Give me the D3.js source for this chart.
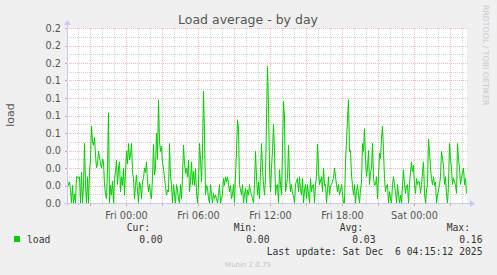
<!DOCTYPE html>
<html><head><meta charset="utf-8">
<script src="https://cdn.jsdelivr.net/npm/d3@7"></script>
<style>
html,body{margin:0;padding:0;background:#f0f0f0;}
svg{display:block;}
</style></head>
<body>
<svg id="chart" width="497" height="275"></svg>
<script>
// ---- data (5-minute samples) ----
const startTime = new Date(2025, 11, 4, 19, 5);
const endTime = new Date(2025, 11, 6, 4, 25);
const stepMinutes = 5;
const loadValues = [
0.025,0.02,0.024,0.015,0.0,0.02,0.0,0.01,0.0,0.03,
0.03,0.028,0.03,0.0,0.035,0.0,0.02,0.068,0.02,0.0,
0.03,0.0,0.035,0.05,0.088,0.07,0.066,0.075,0.055,0.04,
0.045,0.059,0.053,0.045,0.04,0.05,0.047,0.021,0.01,0.005,
0.04,0.103,0.0,0.02,0.009,0.025,0.0,0.028,0.035,0.049,
0.021,0.04,0.047,0.013,0.03,0.02,0.04,0.009,0.035,0.059,
0.045,0.068,0.049,0.055,0.068,0.035,0.028,0.005,0.02,0.032,
0.015,0.0,0.024,0.02,0.005,0.025,0.028,0.04,0.035,0.047,
0.025,0.013,0.021,0.01,0.005,0.03,0.067,0.032,0.04,0.08,
0.05,0.118,0.07,0.059,0.065,0.045,0.04,0.028,0.02,0.009,
0.015,0.013,0.068,0.03,0.021,0.0,0.021,0.01,0.0,0.021,
0.015,0.005,0.0,0.021,0.005,0.03,0.066,0.045,0.034,0.04,
0.03,0.049,0.013,0.025,0.047,0.021,0.036,0.02,0.04,0.013,
0.0,0.021,0.068,0.05,0.024,0.059,0.128,0.078,0.009,0.02,
0.017,0.005,0.0,0.021,0.01,0.0,0.011,0.005,0.009,0.005,
0.0,0.01,0.021,0.0,0.005,0.011,0.028,0.02,0.03,0.024,
0.03,0.021,0.013,0.02,0.005,0.01,0.021,0.0,0.032,0.06,
0.095,0.085,0.021,0.015,0.009,0.021,0.0,0.01,0.017,0.0,
0.015,0.009,0.021,0.013,0.009,0.005,0.0,0.021,0.059,0.03,
0.009,0.024,0.005,0.035,0.068,0.04,0.021,0.009,0.03,0.097,
0.156,0.11,0.04,0.013,0.04,0.06,0.09,0.059,0.009,0.02,
0.021,0.0,0.038,0.021,0.009,0.06,0.116,0.097,0.013,0.02,
0.028,0.066,0.03,0.013,0.021,0.01,0.009,0.0,0.021,0.025,
0.028,0.013,0.03,0.015,0.009,0.028,0.0,0.015,0.021,0.005,
0.021,0.01,0.0,0.028,0.013,0.02,0.021,0.0,0.021,0.03,
0.067,0.04,0.021,0.025,0.03,0.013,0.04,0.02,0.021,0.0,
0.015,0.03,0.009,0.02,0.021,0.025,0.028,0.04,0.03,0.021,
0.013,0.021,0.009,0.015,0.021,0.01,0.0,0.0,0.047,0.07,
0.097,0.118,0.059,0.06,0.032,0.02,0.009,0.021,0.0,0.013,
0.021,0.009,0.0,0.015,0.024,0.068,0.059,0.085,0.05,0.03,
0.04,0.06,0.021,0.035,0.04,0.068,0.028,0.02,0.021,0.03,
0.005,0.03,0.057,0.051,0.074,0.088,0.059,0.028,0.013,0.02,
0.021,0.0,0.013,0.005,0.0,0.021,0.03,0.02,0.013,0.0,
0.021,0.01,0.0,0.009,0.0,0.02,0.038,0.021,0.011,0.02,
0.021,0.0,0.021,0.035,0.047,0.036,0.043,0.02,0.011,0.028,
0.021,0.025,0.024,0.011,0.021,0.035,0.047,0.011,0.0,0.015,
0.021,0.073,0.059,0.04,0.028,0.021,0.03,0.02,0.024,0.0,
0.009,0.015,0.021,0.03,0.059,0.05,0.043,0.021,0.03,0.01,
0.0,0.021,0.068,0.05,0.04,0.021,0.028,0.024,0.021,0.011,
0.068,0.05,0.04,0.021,0.028,0.035,0.04,0.021,0.028,0.011
];
const yTickValues = [0,0.02,0.04,0.06,0.08,0.10,0.12,0.14,0.16,0.18,0.20];
const yTickLabels = ["0.0","0.0","0.0","0.0","0.1","0.1","0.1","0.1","0.2","0.2","0.2"];
const seriesName = "load";
const legendHeads = ["Cur:","Min:","Avg:","Max:"];
const legendValues = ["0.00","0.00","0.03","0.16"];
const titleText = "Load average - by day";
const yAxisTitle = "load";
const lastUpdate = "Last update: Sat Dec  6 04:15:12 2025";
const watermark = "RRDTOOL / TOBI OETIKER";
const footer = "Munin 2.0.75";

// ---- layout ----
const L = 67, R = 467, T = 28, B = 203;
const svg = d3.select("#chart");
const sans = "DejaVu Sans, sans-serif";
const mono = "DejaVu Sans Mono, monospace";
const textCol = "#555";

const x = d3.scaleTime().domain([startTime, endTime]).range([L, R]);
const y = d3.scaleLinear().domain([0, 0.2]).range([B, T]);

svg.append("rect").attr("x", L).attr("y", T).attr("width", R - L).attr("height", B - T).attr("fill", "#ffffff");

// grid
const gGrid = svg.append("g").attr("shape-rendering", "crispEdges");
const minorHours = d3.timeHour.every(1).range(startTime, endTime).filter(d => d.getHours() % 3 !== 0);
const majorHours = d3.timeHour.every(3).range(startTime, endTime);
const yMinor = d3.range(0.01, 0.2, 0.02);
const minorCol = "#d2d2d2", majorCol = "#f0baba";

gGrid.selectAll(".vmin").data(minorHours).join("line")
  .attr("x1", d => Math.round(x(d)) + 0.5).attr("x2", d => Math.round(x(d)) + 0.5)
  .attr("y1", T).attr("y2", B)
  .attr("stroke", minorCol).attr("stroke-dasharray", "1,1");
gGrid.selectAll(".hmin").data(yMinor).join("line")
  .attr("y1", d => Math.round(y(d)) + 0.5).attr("y2", d => Math.round(y(d)) + 0.5)
  .attr("x1", L).attr("x2", R)
  .attr("stroke", minorCol).attr("stroke-dasharray", "1,1");
gGrid.selectAll(".vmaj").data(majorHours).join("line")
  .attr("x1", d => Math.round(x(d)) + 0.5).attr("x2", d => Math.round(x(d)) + 0.5)
  .attr("y1", T).attr("y2", B)
  .attr("stroke", majorCol).attr("stroke-dasharray", "1,1");
gGrid.selectAll(".hmaj").data(yTickValues.slice(1)).join("line")
  .attr("y1", d => Math.round(y(d)) + 0.5).attr("y2", d => Math.round(y(d)) + 0.5)
  .attr("x1", L).attr("x2", R + 1)
  .attr("stroke", majorCol).attr("stroke-dasharray", "1,1");
// small tick marks outside
gGrid.selectAll(".ytk").data(yTickValues).join("line")
  .attr("y1", d => Math.round(y(d)) + 0.5).attr("y2", d => Math.round(y(d)) + 0.5)
  .attr("x1", L - 2).attr("x2", L).attr("stroke", "#e89a9a");
gGrid.selectAll(".xtk").data(majorHours).join("line")
  .attr("x1", d => Math.round(x(d)) + 0.5).attr("x2", d => Math.round(x(d)) + 0.5)
  .attr("y1", B).attr("y2", B + 3).attr("stroke", "#e89a9a");
gGrid.selectAll(".xtk2").data(minorHours).join("line")
  .attr("x1", d => Math.round(x(d)) + 0.5).attr("x2", d => Math.round(x(d)) + 0.5)
  .attr("y1", B).attr("y2", B + 2).attr("stroke", minorCol);

// data line
const pts = loadValues.map((v, i) => ({ t: d3.timeMinute.offset(startTime, i * stepMinutes), v }));
const line = d3.line().x(d => x(d.t) + 0.5).y(d => y(d.v));
svg.append("path").datum(pts).attr("d", line)
  .attr("fill", "none").attr("stroke", "#00cc00").attr("stroke-width", 1);

// axes (light blue with arrows)
const axCol = "#c8c8f5";
svg.append("line").attr("x1", L + 0.5).attr("x2", L + 0.5).attr("y1", B + 3).attr("y2", T - 5)
  .attr("stroke", axCol).attr("shape-rendering", "crispEdges");
svg.append("path").attr("d", `M${L - 3},${T - 3}L${L + 0.5},${T - 8}L${L + 4},${T - 3}Z`).attr("fill", axCol);
svg.append("line").attr("x1", L - 3).attr("x2", R + 5).attr("y1", B + 0.5).attr("y2", B + 0.5)
  .attr("stroke", axCol).attr("shape-rendering", "crispEdges");
svg.append("path").attr("d", `M${R + 3},${B - 3}L${R + 8},${B + 0.5}L${R + 3},${B + 4}Z`).attr("fill", axCol);

// y labels
svg.append("g").selectAll("text").data(yTickValues).join("text")
  .attr("x", 61).attr("y", d => y(d) + 3.5)
  .attr("text-anchor", "end").attr("font-family", sans).attr("font-size", "9.7px").attr("fill", textCol)
  .text((d, i) => yTickLabels[i]);

// x labels via d3 axis
const xAxis = d3.axisBottom(x).tickValues(d3.timeHour.every(6).range(startTime, endTime))
  .tickFormat(d3.timeFormat("%a %H:%M")).tickSize(0).tickPadding(0);
const gx = svg.append("g").attr("transform", `translate(0,${B + 9})`).call(xAxis);
gx.select(".domain").remove();
gx.selectAll("text").attr("font-family", sans).attr("font-size", "9.7px").attr("fill", textCol).attr("dy", "0.71em");

// title
svg.append("text").attr("x", 248).attr("y", 24).attr("text-anchor", "middle")
  .attr("font-family", sans).attr("font-size", "12.5px").attr("fill", textCol).text(titleText);
// y axis title
svg.append("text").attr("transform", "translate(14,115) rotate(-90)").attr("text-anchor", "middle")
  .attr("font-family", sans).attr("font-size", "11px").attr("fill", textCol).text(yAxisTitle);
// watermark
svg.append("text").attr("transform", "translate(482.5,5) rotate(90)").attr("text-anchor", "start")
  .attr("font-family", sans).attr("font-size", "7.8px").attr("fill", "#c8c8c8").text(watermark);

// legend
svg.append("rect").attr("x", 14).attr("y", 236).attr("width", 6).attr("height", 6).attr("fill", "#00cc00");
svg.append("text").attr("x", 27).attr("y", 243).attr("font-family", mono).attr("font-size", "9.7px")
  .attr("fill", "#333").text(seriesName);
const headRight = [150, 257, 363, 470];
svg.append("g").selectAll("text").data(legendHeads).join("text")
  .attr("x", (d, i) => headRight[i]).attr("y", 231).attr("text-anchor", "end")
  .attr("font-family", mono).attr("font-size", "9.7px").attr("fill", "#333").text(d => d);
svg.append("g").selectAll("text").data(legendValues).join("text")
  .attr("x", (d, i) => headRight[i] + 12.5).attr("y", 243).attr("text-anchor", "end")
  .attr("font-family", mono).attr("font-size", "9.7px").attr("fill", "#333").text(d => d);
svg.append("text").attr("x", 482.5).attr("y", 255).attr("text-anchor", "end")
  .style("white-space", "pre")
  .attr("font-family", mono).attr("font-size", "9.7px").attr("fill", "#333").text(lastUpdate);
svg.append("text").attr("x", 248).attr("y", 267).attr("text-anchor", "middle")
  .attr("font-family", sans).attr("font-size", "7px").attr("fill", "#c4c4c4").text(footer);
</script>
</body></html>
